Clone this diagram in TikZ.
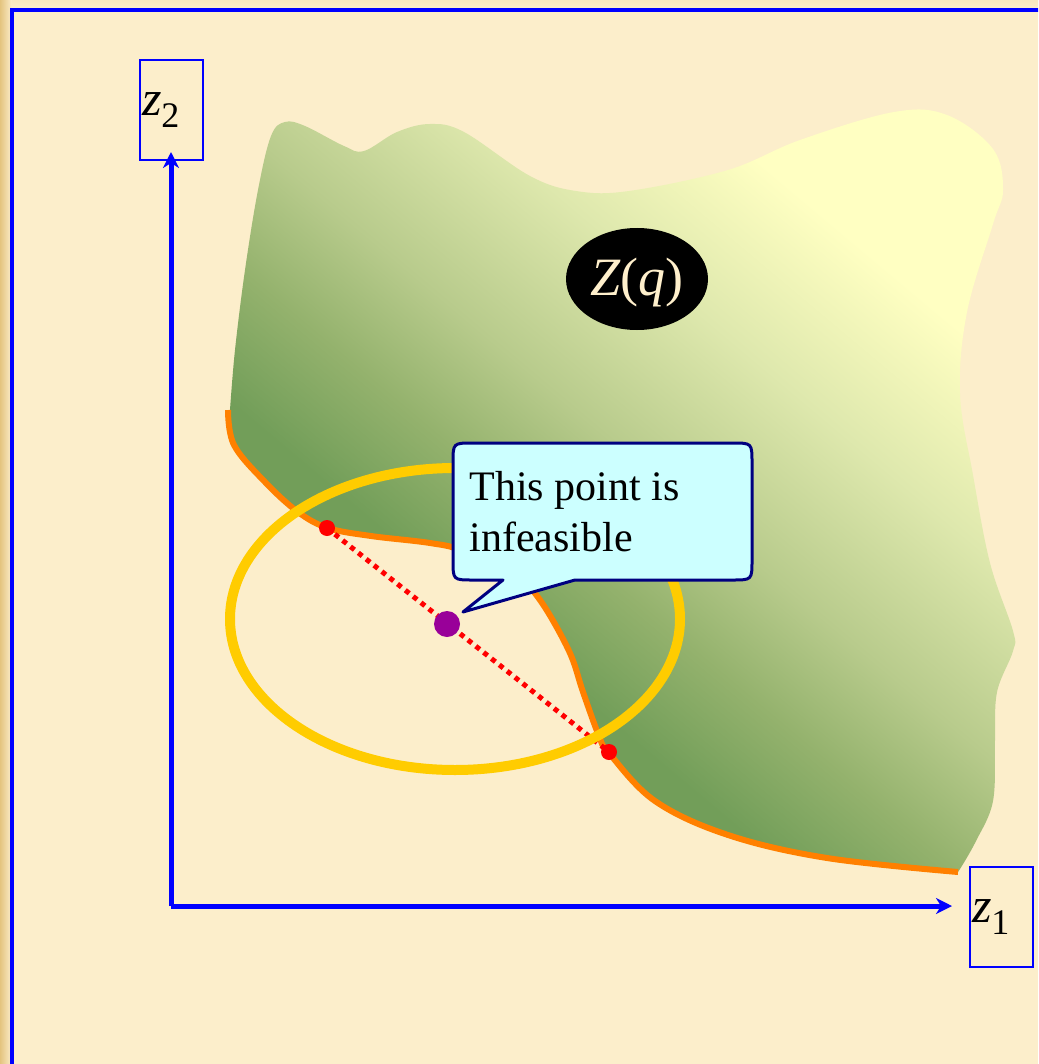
\documentclass[tikz,border=0pt]{standalone}
\usepackage{fontspec}
\setmainfont{Liberation Serif}
\usetikzlibrary{arrows.meta}

\definecolor{paper}{HTML}{FCEECB}
\definecolor{paperedge}{HTML}{E4C47F}
\definecolor{frameblue}{HTML}{0000FF}
\definecolor{regiondark}{HTML}{729E59}
\definecolor{regionlow}{HTML}{94B26D}
\definecolor{regionmid}{HTML}{B8CB8C}
\definecolor{regionhigh}{HTML}{DEE8AD}
\definecolor{regionlight}{HTML}{FFFFC2}
\definecolor{boundary}{HTML}{FF8000}
\definecolor{ballring}{HTML}{FFCC00}
\definecolor{tipfill}{HTML}{CCFFFF}
\definecolor{tipline}{HTML}{000080}
\definecolor{centre}{HTML}{990099}
\definecolor{cream}{HTML}{FFF0CC}

% diagonal shading of the feasible region, from dark green to pale yellow
\pgfdeclareverticalshading{regionshade}{100bp}{%
  color(0bp)=(regiondark); color(38bp)=(regiondark); color(45bp)=(regionlow);
  color(52bp)=(regionmid); color(62bp)=(regionhigh); color(72bp)=(regionlight);
  color(100bp)=(regionlight)}

\tikzset{
  axisline/.style={draw=frameblue, line width=2.5pt, -{Stealth[length=8pt, width=8pt, inset=2.5pt]}},
  axisbox/.style={draw=frameblue, line width=1pt, minimum width=31.5pt, minimum height=50pt,
    inner xsep=1pt, inner ysep=0pt, text width=29.5pt, align=left,
    font=\fontsize{25}{25}\selectfont},
  boundaryline/.style={draw=boundary, line width=3pt},
  ballline/.style={draw=ballring, line width=5pt},
  chord/.style={draw=red, line width=2.5pt, dash pattern=on 2.5pt off 2.5pt},
  hitdot/.style={fill=red},
  tipbox/.style={draw=tipline, fill=tipfill, line width=1.5pt, line join=round},
  tiptext/.style={inner sep=0pt, anchor=west, align=left, font=\fontsize{21}{25.5}\selectfont},
  setlabel/.style={text=cream, inner sep=0pt, font=\fontsize{27}{27}\selectfont}
}

\newcommand{\axislabel}[1]{\textit{z}\raisebox{-6pt}{\fontsize{18}{18}\selectfont #1}}

\begin{document}
\begin{tikzpicture}[x=0.5pt, y=-0.5pt]
  \useasboundingbox (0,0) rectangle (1038,1064);
  \clip (0,0) rectangle (1038,1064);

  % paper background with a darker margin outside the frame
  \fill[paper] (0,0) rectangle (1038,1064);
  \shade[left color=paperedge, right color=paper] (0,0) rectangle (12,1064);
  \shade[top color=paper!85!paperedge, bottom color=paper] (12,0) rectangle (1038,9);

  % frame
  \draw[frameblue, line width=2.2pt] (12,1070) -- (12,10) -- (1045,10);

  % feasible region Z(q)
  \shade[shading=regionshade, shading angle=-40]
    plot[smooth, tension=0.6] coordinates {(230,410) (234,445) (265,482) (298,512) (328,528)
      (371,536) (430,543) (463,551) (516,577) (540,600) (569,651) (583,692) (599,736)
      (609,753) (655,801) (728,835) (827,858) (958,872)}
    -- plot[smooth, tension=0.6] coordinates {(960,869) (976,841) (993,801) (995,740)
      (997,692) (1013,651) (1013,631) (990,563) (973,475) (960,394) (967,312) (993,224)
      (1003,190) (993,149) (947,115) (894,112) (800,140) (728,170) (629,191) (576,191)
      (530,176) (464,132) (430,124) (397,132) (364,151) (344,146) (305,126) (285,122)
      (271,136) (258,190) (245,270) (235,350) (230,410)}
    -- cycle;

  % lower boundary of the region
  \draw[boundaryline, line cap=butt]
    plot[smooth, tension=0.6] coordinates {(228,410) (234,445) (265,482) (298,512) (328,528)
      (371,536) (430,543) (463,551) (516,577) (540,600) (569,651) (583,692) (599,736)
      (609,753) (655,801) (728,835) (827,858) (958,872)};

  % axes
  \coordinate (O) at (171,906);
  \coordinate (ytip) at (171,152);
  \coordinate (xtip) at (952,906);
  \draw[axisline] (O) -- (ytip);
  \draw[axisline] (O) -- (xtip);
  \node[axisbox] (z2) at (171.5,110) {\axislabel{2}};
  \node[axisbox] (z1) at (1001.5,917) {\axislabel{1}};

  % chord through the centre of the ball
  \coordinate (hitA) at (327,528);
  \coordinate (hitB) at (609,752);
  \draw[chord] (hitA) -- (hitB);

  % ball around the infeasible point
  \coordinate (ballc) at (455,619);
  \draw[ballline] (ballc) ellipse [x radius=225, y radius=151];

  % points
  \coordinate (pt) at (447,624);
  \fill[centre] (pt) circle [radius=13];
  \fill[hitdot] (hitA) circle [radius=8];
  \fill[hitdot] (hitB) circle [radius=8];

  % callout
  \coordinate (tiptip) at (463,612);
  \draw[tipbox] (473,443) -- (732,443) .. controls (752,443) .. (752,463)
    -- (752,560) .. controls (752,580) .. (732,580) -- (575,580) -- (tiptip)
    -- (503,580) -- (473,580) .. controls (453,580) .. (453,560)
    -- (453,463) .. controls (453,443) .. (473,443) -- cycle;
  \node[tiptext] (note) at (469,512) {This point is\\infeasible};

  % set label
  \fill[black] (637,279) ellipse [x radius=71, y radius=51];
  \node[setlabel] (zq) at (637,283) {\textit{Z}(\textit{q})};
\end{tikzpicture}
\end{document}
